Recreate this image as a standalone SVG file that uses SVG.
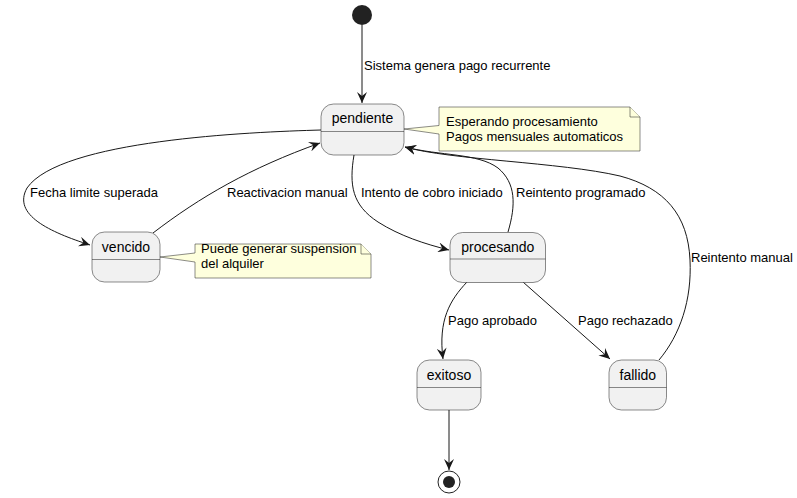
<svg xmlns="http://www.w3.org/2000/svg" width="797" height="498" viewBox="0 0 797 498">
<defs>
<marker id="arr" viewBox="0 0 12 10" refX="11" refY="5" markerWidth="12" markerHeight="10" markerUnits="userSpaceOnUse" orient="auto">
<path d="M0,0 L11,5 L0,10 L4,5 Z" fill="#181818"/>
</marker>
<style>
.st{fill:#F1F1F1;stroke:#181818;stroke-width:0.5}
.dv{stroke:#181818;stroke-width:0.5}
.nt{fill:#FEFFDD;stroke:#181818;stroke-width:0.5}
.t{font-family:"Liberation Sans",Arial,sans-serif;font-size:14px;fill:#000}
.l{font-family:"Liberation Sans",Arial,sans-serif;font-size:13px;fill:#000}
.c{fill:none;stroke:#181818;stroke-width:1;marker-end:url(#arr)}
</style>
</defs>
<rect width="797" height="498" fill="#FFFFFF"/>
<g id="connectors">
<path class="c" d="M362,25 L362,103"/>
<path class="c" d="M321,130 C250,132 60,140 27,188 C12,215 50,232 90,245"/>
<path class="c" d="M153,233 C200,197 250,168 320,143"/>
<path class="c" d="M354,155 C349,185 352,205 378,222 C400,236 425,244 449,250"/>
<path class="c" d="M508,232 C516,205 516,183 498,168 C478,153 440,156 405,147"/>
<path class="c" d="M659,360 C680,335 692,300 690,260 C688,215 665,188 620,176 C560,162 450,160 405,147"/>
<path class="c" d="M467,282 C450,300 438,320 443,359"/>
<path class="c" d="M523,282 L610,359"/>
<path class="c" d="M449,410 L449,470"/>
<text class="l" x="364" y="70">Sistema genera pago recurrente</text>
<text class="l" x="30" y="197">Fecha limite superada</text>
<text class="l" x="227" y="197">Reactivacion manual</text>
<text class="l" x="361" y="197">Intento de cobro iniciado</text>
<text class="l" x="516" y="197">Reintento programado</text>
<text class="l" x="691" y="262">Reintento manual</text>
<text class="l" x="448" y="325">Pago aprobado</text>
<text class="l" x="578" y="325">Pago rechazado</text>
</g>
<g id="start"><circle cx="362" cy="15" r="10" fill="#222222"/></g>
<g id="end"><circle cx="449" cy="482" r="11" fill="none" stroke="#222222" stroke-width="1"/><circle cx="449" cy="482" r="6" fill="#222222"/></g>
<g id="pendiente">
<rect class="st" x="321" y="104" width="83" height="51" rx="12.5"/>
<line class="dv" x1="321" y1="131.5" x2="404" y2="131.5"/>
<text class="t" x="362.5" y="123" text-anchor="middle">pendiente</text>
</g>
<g id="note-pendiente">
<path class="nt" d="M439,107 L630,107 L640,117 L640,151 L439,151 L439,134 L404,129 L439,125.5 Z"/>
<path class="nt" d="M630,107 L630,117 L640,117" fill="none"/>
<text class="l" x="446" y="126">Esperando procesamiento</text>
<text class="l" x="446" y="141">Pagos mensuales automaticos</text>
</g>
<g id="vencido">
<rect class="st" x="92" y="232" width="68" height="50" rx="12.5"/>
<line class="dv" x1="92" y1="259.5" x2="160" y2="259.5"/>
<text class="t" x="126" y="252" text-anchor="middle">vencido</text>
</g>
<g id="note-vencido">
<path class="nt" d="M195,244 L361,244 L371,254 L371,278 L195,278 L195,262 L160,257 L195,253 Z"/>
<path class="nt" d="M361,244 L361,254 L371,254" fill="none"/>
<text class="l" x="201" y="253">Puede generar suspension</text>
<text class="l" x="201" y="268">del alquiler</text>
</g>
<g id="procesando">
<rect class="st" x="450" y="232.5" width="95.5" height="50" rx="12.5"/>
<line class="dv" x1="450" y1="259" x2="545.5" y2="259"/>
<text class="t" x="497.8" y="252" text-anchor="middle">procesando</text>
</g>
<g id="exitoso">
<rect class="st" x="417" y="360" width="64" height="50" rx="12.5"/>
<line class="dv" x1="417" y1="387.5" x2="481" y2="387.5"/>
<text class="t" x="449" y="380" text-anchor="middle">exitoso</text>
</g>
<g id="fallido">
<rect class="st" x="609" y="360" width="57.5" height="50" rx="12.5"/>
<line class="dv" x1="609" y1="387.5" x2="666.5" y2="387.5"/>
<text class="t" x="637.8" y="380" text-anchor="middle">fallido</text>
</g>
</svg>
